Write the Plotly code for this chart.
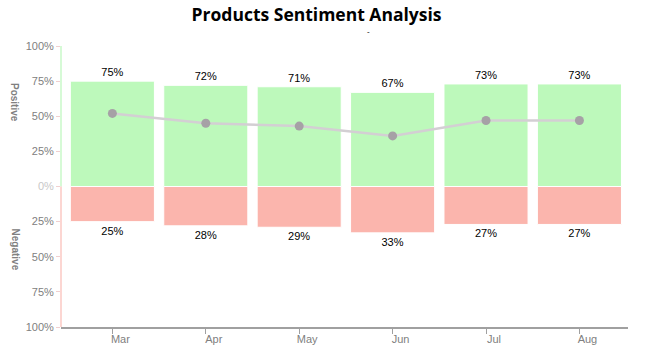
import plotly.graph_objects as go

months = ["Mar", "Apr", "May", "Jun", "Jul", "Aug"]
positive = [75, 72, 71, 67, 73, 73]
negative = [25, 28, 29, 33, 27, 27]
trend = [52, 45, 43, 36, 47, 47]
ytick_vals = [100, 75, 50, 25, 0, -25, -50, -75, -100]
ytick_text = ["100%", "75%", "50%", "25%", "<span style='color:#c8c8c8'>0%</span>",
              "25%", "50%", "75%", "100%"]

fig = go.Figure()
fig.add_trace(go.Bar(
    x=months, y=positive, marker=dict(color="#bdf9bb", line=dict(color="white", width=1)),
    text=[f"{v}%" for v in positive], textposition="outside",
    textfont=dict(color="black", size=11, family="Arial"), cliponaxis=False, width=0.9,
))
fig.add_trace(go.Bar(
    x=months, y=[-v for v in negative], marker=dict(color="#fbb5ad", line=dict(color="white", width=1)),
    text=[f"{v}%" for v in negative], textposition="outside",
    textfont=dict(color="black", size=11, family="Arial"), cliponaxis=False, width=0.9,
))
fig.add_trace(go.Scatter(
    x=months, y=trend, mode="lines+markers",
    line=dict(color="#d3cfd3", width=2.5), marker=dict(color="#a6a1a6", size=9),
))

fig.update_layout(
    width=646, height=354, barmode="relative", showlegend=False,
    plot_bgcolor="white", paper_bgcolor="white",
    margin=dict(l=61, r=18, t=46, b=27, autoexpand=False),
    title=dict(text="<b>Products Sentiment Analysis</b>", x=0.49, xanchor="center", y=0.975, yanchor="top",
               font=dict(family="Open Sans", size=17.5, color="black")),
    font=dict(family="Arial"),
)
fig.update_xaxes(
    range=[-0.55, 5.52], showgrid=False, showline=True, linecolor="#a0a0a0", linewidth=1.5,
    ticks="outside", ticklen=5, tickcolor="#a0a0a0", ticklabelshift=8, ticklabelstandoff=-4,
    tickfont=dict(color="#808080", size=11, family="Arial"), automargin=False,
)
fig.update_yaxes(
    range=[-100, 100], showgrid=False, zeroline=False, showline=False,
    tickvals=ytick_vals, ticktext=ytick_text, ticks="outside", ticklen=4, tickcolor="#f0d0d0",
    tickfont=dict(color="#808080", size=11, family="Arial"), automargin=False,
)
fig.add_shape(type="line", xref="paper", yref="y", x0=0, x1=0, y0=0, y1=100,
              line=dict(color="#c8f8c8", width=1.5))
fig.add_shape(type="line", xref="paper", yref="y", x0=0, x1=0, y0=0, y1=-100,
              line=dict(color="#fbc8c3", width=1.5))
fig.add_annotation(text="<b>Positive</b>", xref="paper", yref="y", x=-0.094, y=60, textangle=90,
                   showarrow=False, font=dict(color="#808080", size=10, family="Arial"))
fig.add_annotation(text="<b>Negative</b>", xref="paper", yref="y", x=-0.094, y=-45, textangle=90,
                   showarrow=False, font=dict(color="#808080", size=10, family="Arial"))
fig.add_annotation(text="-", xref="paper", yref="paper", x=0.543, y=1.075, showarrow=False,
                   font=dict(color="black", size=8, family="Arial"))

fig.write_html("out.html")
